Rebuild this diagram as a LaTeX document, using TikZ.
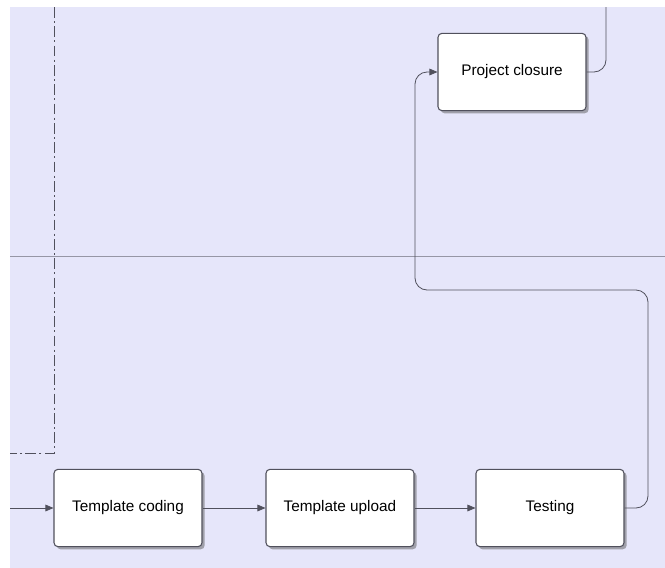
\documentclass[tikz,border=0pt]{standalone}
\usepackage{fontspec}
\setmainfont{Liberation Sans}
\usepackage{tikz}
\usetikzlibrary{arrows.meta,shadows}
\definecolor{lanebg}{RGB}{230,230,250}
\definecolor{flowgray}{RGB}{80,80,92}
\definecolor{sepgray}{RGB}{150,150,165}
\definecolor{shadowgray}{RGB}{160,160,170}

\tikzset{
  task/.style={draw=flowgray,thick,fill=white,rounded corners=3pt,
    minimum width=111pt,minimum height=58pt,inner sep=0pt,
    font=\fontsize{11.5pt}{13pt}\selectfont,
    general shadow={fill=shadowgray,shadow xshift=2pt,shadow yshift=-2pt}},
  flow/.style={draw=flowgray,semithick,rounded corners=9pt,
    -{Triangle[length=6pt,width=5pt]}},
  plain/.style={draw=flowgray,semithick,rounded corners=9pt}
}

\begin{document}
\begin{tikzpicture}[x=0.75pt,y=-0.75pt]
    \useasboundingbox (0,0) rectangle (665,568);
    % lane background
    \fill[lanebg] (10,7) rectangle (665,568);
    \draw[sepgray] (10,256) -- (665,256);
    % boundary of the previous lane part
    \draw[flowgray,semithick,dash pattern=on 8pt off 2.5pt on 1.5pt off 2.5pt]
      (54,7) -- (54,453) -- (10,453);
    % tasks
    \node[task] (closure) at (512,72) {Project closure};
    \node[task] (coding) at (128,508) {Template coding};
    \node[task] (upload) at (340,508) {Template upload};
    \node[task] (testing) at (550,508) {Testing};
    % free ends
    \coordinate (inflow) at (10,508);
    \coordinate (outflow) at (606,7);
    % connectors
    \draw[flow] (inflow) -- (coding.west);
    \draw[flow] (coding.east) -- (upload.west);
    \draw[flow] (upload.east) -- (testing.west);
    \draw[flow] (testing.east) -- (648,508) -- (648,290) -- (415,290)
      -- (415,72) -- (closure.west);
    \draw[plain] (closure.east) -- (606,72) -- (outflow);
\end{tikzpicture}
\end{document}
